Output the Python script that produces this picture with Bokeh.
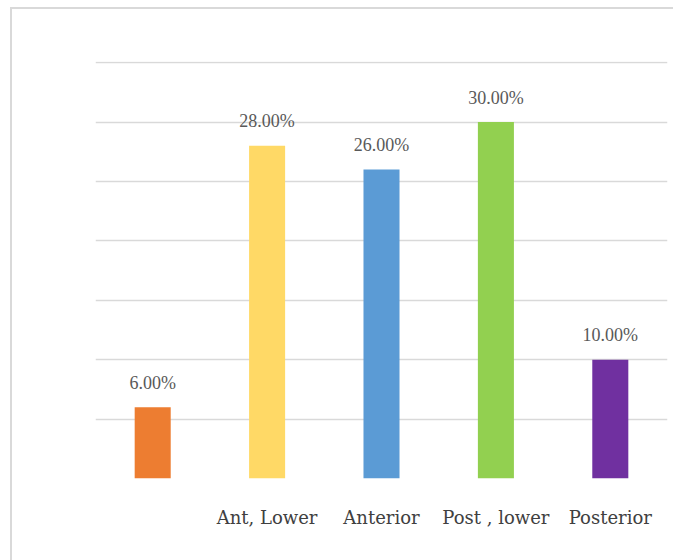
from bokeh.plotting import figure
from bokeh.models import ColumnDataSource, FactorRange, LabelSet, Range1d
from bokeh.embed import file_html
from bokeh.resources import INLINE

# Share of cases by location (percent)
categories = ["", "Ant, Lower", "Anterior", "Post , lower", "Posterior"]
percentages = [6.0, 28.0, 26.0, 30.0, 10.0]
bar_colors = ["#ED7D31", "#FFD966", "#5B9BD5", "#92D050", "#7030A0"]
grid_values = [0, 5, 10, 15, 20, 25, 30, 35]

source = ColumnDataSource(data=dict(
    cat=categories,
    pct=percentages,
    color=bar_colors,
    label=[f"{v:.2f}%" for v in percentages],
))

p = figure(
    x_range=FactorRange(factors=categories, range_padding=0),
    y_range=Range1d(0, 35.1),
    width=673, height=560,
    output_backend="svg", toolbar_location=None,
    min_border_left=95, min_border_right=6,
    min_border_top=61, min_border_bottom=82,
    background_fill_color="white", border_fill_color=None,
)
p.outline_line_color = None
# light frame along the left and top edges of the chart area, painted behind the canvas
p.styles = {
    "background": (
        "linear-gradient(#d9d9d9, #d9d9d9) 10px 7px / 2px 100% no-repeat, "
        "linear-gradient(#d9d9d9, #d9d9d9) 10px 7px / 100% 2px no-repeat, white"
    ),
}

p.vbar(x="cat", top="pct", width=0.315, color="color", line_color=None, source=source)

labels = LabelSet(
    x="cat", y="pct", text="label", source=source,
    text_align="center", text_baseline="alphabetic", y_offset=18.5,
    text_font="DejaVu Sans", text_font_size="18px", text_color="#595959",
)
p.add_layout(labels)

# horizontal gridlines every 5 points, no y axis drawn
p.yaxis.visible = False
p.ygrid.ticker = grid_values
p.ygrid.grid_line_color = "#d9d9d9"
p.ygrid.grid_line_width = 1.5
p.xgrid.grid_line_color = None

p.xaxis.axis_line_color = None
p.xaxis.major_tick_line_color = None
p.xaxis.minor_tick_line_color = None
p.xaxis.major_label_standoff = 22
p.xaxis.major_label_text_font = "DejaVu Serif"
p.xaxis.major_label_text_font_size = "18px"
p.xaxis.major_label_text_color = "#404040"

open("out.html", "w").write(file_html(p, INLINE))
